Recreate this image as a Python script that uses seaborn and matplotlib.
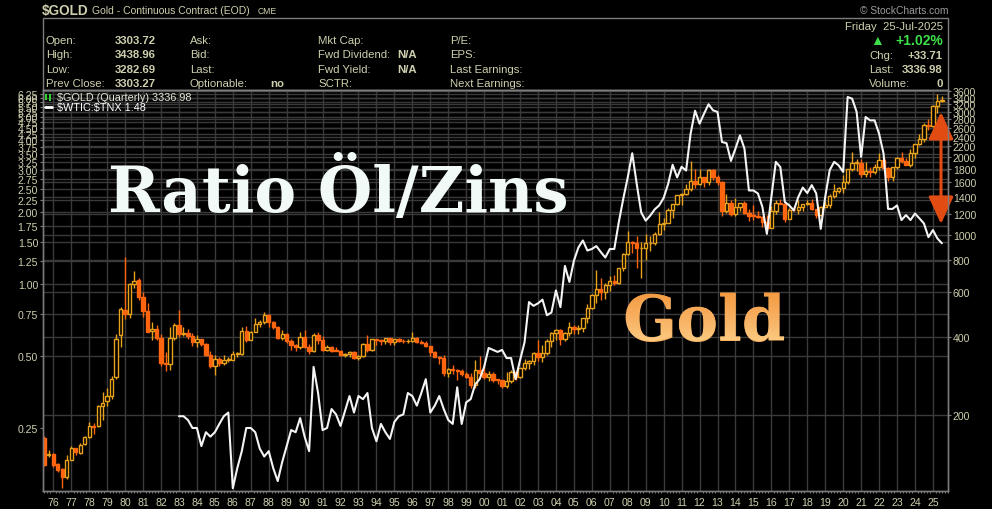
import numpy as np
import pandas as pd
import matplotlib
matplotlib.use('Agg')
import matplotlib.pyplot as plt
import matplotlib.ticker as mticker
import matplotlib.transforms as mtrans
from matplotlib.patches import Rectangle, PathPatch
from matplotlib.lines import Line2D
from matplotlib.textpath import TextPath
from matplotlib.font_manager import FontProperties
from matplotlib.colors import LinearSegmentedColormap
import seaborn as sns

# ---------------- data ----------------
gold_quarters = pd.period_range('1975Q3', '2025Q3', freq='Q')

gold_open = [
    162, 140,
    141, 129, 123, 115,  134, 148, 142, 154,  164, 181, 181, 216,  226, 237, 279, 408,
    512, 494, 645, 665,  575, 505, 422, 430,  398, 318, 314, 397,  445, 412, 415, 403,
    382, 393, 375, 342,  309, 330, 317, 327,  327, 344, 345, 424,  391, 420, 448, 460,
    487, 457, 437, 397,  410, 385, 373, 367,  402, 368, 352, 408,  391, 356, 368, 355,
    354, 341, 344, 350,  333, 338, 378, 356,  392, 390, 387, 396,  384, 392, 388, 385,
    388, 397, 383, 380,  369, 349, 335, 333,  291, 302, 297, 295,  289, 280, 262, 299,
    290, 279, 289, 274,  273, 258, 270, 293,  279, 303, 318, 324,  348, 336, 347, 388,
    416, 427, 394, 416,  438, 430, 436, 473,  518, 583, 614, 600,  635, 663, 650, 743,
    838, 933, 930, 884,  884, 924, 927, 1004,  1097, 1113, 1245, 1309,  1421, 1439, 1500, 1620,
    1566, 1669, 1604, 1776,  1675, 1596, 1234, 1327,  1202, 1284, 1322, 1210,  1184, 1183, 1172, 1115,
    1061, 1234, 1322, 1316,  1152, 1249, 1242, 1280,  1309, 1327, 1253, 1192,  1282, 1298, 1413, 1472,
    1523, 1596, 1801, 1895,  1895, 1716, 1771, 1757,  1829, 1954, 1817, 1672,  1826, 1986, 1929, 1866,
    2072, 2254, 2340, 2669,  2641, 3150, 3304,
]
gold_high = [
    165, 146,
    142, 130, 124, 139,  151, 149, 156, 166,  188, 185, 218, 245,  253, 282, 412, 525,
    816, 650, 720, 680,  600, 545, 460, 445,  410, 350, 440, 455,  511, 440, 430, 415,
    407, 395, 380, 352,  340, 336, 340, 334,  352, 350, 440, 442,  424, 475, 468, 502,
    490, 462, 442, 427,  415, 392, 378, 418,  425, 376, 415, 418,  405, 372, 370, 365,
    357, 346, 352, 352,  340, 380, 409, 392,  395, 395, 397, 398,  394, 397, 392, 395,
    418, 400, 390, 385,  370, 354, 337, 340,  305, 311, 300, 302,  292, 291, 326, 338,
    316, 295, 292, 276,  274, 294, 297, 295,  305, 330, 327, 350,  390, 373, 395, 418,
    430, 432, 420, 457,  447, 445, 474, 540,  590, 732, 680, 650,  690, 697, 745, 848,
    1033, 945, 988, 935,  1007, 990, 1020, 1227,  1162, 1265, 1310, 1425,  1448, 1577, 1923, 1805,
    1791, 1680, 1790, 1798,  1697, 1616, 1434, 1361,  1392, 1332, 1345, 1255,  1308, 1232, 1178, 1191,
    1287, 1362, 1377, 1337,  1264, 1296, 1362, 1310,  1366, 1369, 1262, 1289,  1347, 1443, 1566, 1531,
    1704, 1805, 2089, 1966,  1959, 1919, 1834, 1877,  2078, 1998, 1827, 1833,  2009, 2085, 1987, 2152,
    2256, 2455, 2709, 2801,  3173, 3509, 3439,
]
gold_low = [
    126, 137,
    125, 120, 104, 113,  133, 140, 141, 152,  163, 169, 179, 191,  216, 230, 275, 367,
    470, 475, 620, 560,  480, 420, 390, 390,  310, 296, 298, 390,  400, 405, 395, 370,
    368, 370, 338, 305,  285, 308, 312, 320,  327, 334, 342, 383,  390, 418, 440, 450,
    440, 430, 395, 390,  380, 358, 355, 360,  365, 345, 350, 378,  353, 352, 350, 352,
    339, 335, 335, 328,  326, 336, 350, 354,  374, 373, 377, 374,  372, 382, 380, 380,
    384, 380, 378, 366,  338, 334, 316, 283,  280, 287, 272, 283,  278, 253, 253, 286,
    275, 270, 268, 264,  255, 255, 265, 272,  277, 297, 300, 311,  323, 320, 342, 366,
    390, 372, 385, 406,  411, 411, 418, 456,  515, 542, 560, 565,  605, 640, 642, 720,
    835, 845, 740, 681,  800, 866, 908, 1000,  1044, 1110, 1157, 1300,  1308, 1420, 1478, 1523,
    1556, 1527, 1556, 1635,  1555, 1180, 1208, 1180,  1182, 1240, 1205, 1131,  1142, 1162, 1072, 1046,
    1061, 1200, 1310, 1124,  1146, 1240, 1204, 1236,  1302, 1250, 1160, 1180,  1276, 1267, 1381, 1445,
    1451, 1574, 1765, 1764,  1673, 1677, 1677, 1722,  1781, 1808, 1615, 1618,  1805, 1900, 1858, 1823,
    1985, 2230, 2293, 2541,  2624, 2970, 3283,
]
gold_close = [
    128, 141,
    128, 122, 115, 134,  148, 143, 153, 164,  181, 179, 216, 223,  237, 275, 393, 516,
    494, 642, 660, 575,  505, 420, 430, 398,  318, 314, 397, 445,  412, 415, 403, 382,
    393, 375, 342, 309,  330, 317, 327, 327,  344, 345, 424, 391,  420, 448, 460, 487,
    457, 437, 397, 410,  385, 373, 367, 402,  368, 352, 408, 391,  356, 368, 355, 354,
    341, 344, 350, 333,  338, 378, 356, 392,  390, 387, 396, 384,  392, 388, 385, 388,
    397, 383, 380, 369,  349, 335, 333, 291,  302, 297, 295, 289,  280, 262, 299, 290,
    279, 289, 274, 273,  258, 270, 293, 279,  303, 318, 324, 348,  336, 347, 388, 416,
    427, 394, 416, 438,  430, 436, 473, 518,  583, 614, 600, 635,  663, 650, 743, 838,
    933, 930, 884, 884,  924, 927, 1004, 1097,  1113, 1245, 1309, 1421,  1439, 1500, 1620, 1566,
    1669, 1604, 1776, 1675,  1596, 1234, 1327, 1202,  1284, 1322, 1210, 1184,  1183, 1172, 1115, 1061,
    1234, 1322, 1316, 1152,  1249, 1242, 1280, 1309,  1327, 1253, 1192, 1282,  1298, 1413, 1472, 1523,
    1596, 1801, 1895, 1895,  1716, 1771, 1757, 1829,  1954, 1817, 1672, 1826,  1986, 1929, 1866, 2072,
    2254, 2340, 2669, 2641,  3150, 3307, 3337,
]

# $WTIC:$TNX ratio, quarterly from 1983Q1
ratio_quarters = pd.period_range('1983Q1', '2025Q3', freq='Q')
ratio_values = [
    0.28, 0.28, 0.27, 0.25,  0.25, 0.21, 0.24, 0.23,  0.24, 0.26, 0.28, 0.29,  0.14, 0.17, 0.20, 0.25,
    0.25, 0.24, 0.205, 0.19,  0.20, 0.17, 0.15, 0.18,  0.21, 0.245, 0.24, 0.275,  0.23, 0.20, 0.45, 0.35,
    0.245, 0.25, 0.30, 0.285,  0.255, 0.295, 0.34, 0.29,  0.34, 0.33, 0.35, 0.25,  0.22, 0.26, 0.24, 0.225,
    0.265, 0.28, 0.285, 0.35,  0.34, 0.31, 0.35, 0.40,  0.29, 0.31, 0.34, 0.30,  0.27, 0.26, 0.37, 0.26,
    0.32, 0.33, 0.38, 0.40,  0.45, 0.54, 0.53, 0.52,  0.53, 0.49, 0.49, 0.40,  0.48, 0.57, 0.84, 0.81,
    0.83, 0.86, 0.74, 0.76,  0.94, 0.80, 1.19, 1.02,  1.25, 1.42, 1.52, 1.38,  1.40, 1.44, 1.36, 1.29,
    1.40, 1.40, 1.81, 2.27,  2.79, 3.52, 2.62, 1.99,  1.84, 1.93, 2.05, 2.13,  2.29, 2.62, 3.15, 2.79,
    3.09, 2.98, 4.24, 5.30,  4.68, 5.15, 5.64, 5.32,  5.24, 3.92, 3.88, 3.27,  3.68, 4.18, 3.68, 2.46,
    2.46, 2.39, 2.10, 1.62,  2.31, 3.24, 3.08, 2.20,  2.13, 2.03, 2.31, 2.53,  2.40, 2.59, 2.39, 1.70,
    2.31, 2.99, 3.24, 3.13,  2.94, 6.05, 5.95, 5.24,  3.40, 4.99, 4.83, 4.83,  4.25, 3.51, 2.06, 2.06,
    2.13, 1.85, 1.94, 1.85,  1.97, 1.88, 1.79, 1.57,  1.68, 1.55, 1.48,
]

ratio_ticks = [0.25, 0.50, 0.75, 1.00, 1.25, 1.50, 1.75, 2.00, 2.25, 2.50, 2.75, 3.00, 3.25,
               3.50, 3.75, 4.00, 4.25, 4.50, 4.75, 5.00, 5.25, 5.50, 5.75, 6.00, 6.25]
gold_ticks = [200, 400, 600, 800, 1000, 1200, 1400, 1600, 1800, 2000, 2200, 2400,
              2600, 2800, 3000, 3200, 3400, 3600]
year_ticks = list(range(1976, 2026))

# ---------------- style ----------------
sns.set_theme(style='dark', rc={'figure.facecolor': 'black', 'axes.facecolor': 'black',
                                'savefig.facecolor': 'black'})
plt.rcParams['font.family'] = ['Liberation Sans', 'DejaVu Sans']

BEIGE = '#cfcfae'
GRID = '#3a3a3a'
FRAME = '#7c7c7c'
UP = '#e9a21b'
DOWN = '#ff650f'

W, H = 992, 510


def fx(x):
    return x / W


def fy(y):
    return 1 - y / H


fig = plt.figure(figsize=(W / 100, H / 100), dpi=100)
L, R, T, B = 43, 948, 91, 492
ax_r = fig.add_axes([fx(L), fy(B), (R - L) / W, (B - T) / H])
ax_g = ax_r.twinx()
ax_r.set_zorder(ax_g.get_zorder() + 1)
ax_r.patch.set_visible(False)
ax_g.patch.set_facecolor('black')
ax_g.patch.set_visible(True)

ax_r.set_xlim(1975.426, 2025.84)
ax_r.set_yscale('log')
ax_g.set_yscale('log')
ax_r.set_ylim(0.1363, 6.47)
ax_g.set_ylim(101.2, 3640)

# grid (all drawn in the bottom axes so it stays behind the marks)
for yr in year_ticks:
    ax_g.axvline(yr, color=GRID, lw=1, zorder=0)
for v in gold_ticks:
    ax_g.axhline(v, color=GRID, lw=1, zorder=0)
blend = mtrans.blended_transform_factory(ax_g.transAxes, ax_r.transData)
for v in ratio_ticks[1:]:
    ax_g.add_line(Line2D([0, 1], [v, v], transform=blend, color=GRID, lw=1, zorder=0))

# candles
gx = np.array(gold_quarters.year + (gold_quarters.quarter - 1) / 4.0)
o = np.array(gold_open, float)
hi = np.array(gold_high, float)
lo = np.array(gold_low, float)
c = np.array(gold_close, float)
up = c >= o
cols = np.where(up, UP, DOWN)
ax_g.vlines(gx, lo, hi, colors=cols, lw=1, zorder=2)
bot = np.minimum(o, c)
top = np.maximum(np.maximum(o, c), bot * 1.006)
ax_g.bar(gx, top - bot, bottom=bot, width=0.185, color=np.where(up, 'black', DOWN),
         edgecolor=cols, linewidth=1, zorder=3)

# ratio line
rx = np.array(ratio_quarters.year + (ratio_quarters.quarter - 1) / 4.0)
sns.lineplot(x=rx, y=ratio_values, ax=ax_r, color='#f4f4f4', lw=1.5, zorder=4)

# arrow
ax_g.annotate('', xy=(2025.45, 2990), xytext=(2025.45, 1100),
              arrowprops=dict(arrowstyle='<|-|>,head_length=1.2,head_width=0.55',
                              color='#e24c12', lw=2.2, mutation_scale=14,
                              shrinkA=0, shrinkB=0),
              annotation_clip=False, zorder=5)

# axes / ticks
ax_r.yaxis.set_major_locator(mticker.FixedLocator(ratio_ticks))
ax_r.yaxis.set_major_formatter(mticker.FixedFormatter([f'{v:.2f}' for v in ratio_ticks]))
ax_r.yaxis.set_minor_locator(mticker.NullLocator())
ax_g.yaxis.set_major_locator(mticker.FixedLocator(gold_ticks))
ax_g.yaxis.set_major_formatter(mticker.FixedFormatter([str(v) for v in gold_ticks]))
ax_g.yaxis.set_minor_locator(mticker.NullLocator())
ax_r.xaxis.set_major_locator(mticker.FixedLocator(year_ticks))
ax_r.xaxis.set_major_formatter(mticker.FixedFormatter([f'{y % 100:02d}' for y in year_ticks]))
ax_r.xaxis.set_minor_locator(mticker.MultipleLocator(1 / 6))

ax_r.tick_params(axis='y', which='major', left=True, length=2.5, width=0.8, color=FRAME,
                 labelsize=7.6, labelcolor=BEIGE, pad=1)
ax_g.tick_params(axis='y', which='major', right=True, length=2.5, width=0.8, color=FRAME,
                 labelsize=7.6, labelcolor=BEIGE, pad=1)
ax_r.tick_params(axis='x', which='major', bottom=True, length=0, labelsize=7.6,
                 labelcolor=BEIGE, pad=4)
ax_r.tick_params(axis='x', which='minor', bottom=True, length=1.6, width=0.7, color=FRAME)
for a in (ax_r, ax_g):
    a.grid(False)
    a.set_xlabel('')
    a.set_ylabel('')
    for s in a.spines.values():
        s.set_color(FRAME)
        s.set_linewidth(1)

# ---------------- header ----------------
fig.add_artist(Rectangle((fx(43), fy(91)), (948 - 43) / W, (91 - 19) / H,
                         transform=fig.transFigure, fill=False, ec=FRAME, lw=1))
fig.text(fx(42), fy(11), r'\$GOLD', fontsize=9.8, fontweight='bold', color=BEIGE,
         ha='left', va='center')
fig.text(fx(92), fy(11), 'Gold - Continuous Contract (EOD)', fontsize=7.5, color=BEIGE,
         ha='left', va='center')
fig.text(fx(258), fy(12), 'CME', fontsize=6.2, color=BEIGE, ha='left', va='center')
fig.text(fx(948), fy(11), '© StockCharts.com', fontsize=7.4, color='#9a9a9a',
         ha='right', va='center')

rows = [41, 55, 70, 84]
col1 = ['Open:', 'High:', 'Low:', 'Prev Close:']
val1 = ['3303.72', '3438.96', '3282.69', '3303.27']
col2 = ['Ask:', 'Bid:', 'Last:', 'Optionable:']
col3 = ['Mkt Cap:', 'Fwd Dividend:', 'Fwd Yield:', 'SCTR:']
col4 = ['P/E:', 'EPS:', 'Last Earnings:', 'Next Earnings:']
hs = 8.2
for y, a, b, cc, d in zip(rows, col1, col2, col3, col4):
    fig.text(fx(46), fy(y), a, fontsize=hs, color=BEIGE, ha='left', va='center')
    fig.text(fx(190), fy(y), b, fontsize=hs, color=BEIGE, ha='left', va='center')
    fig.text(fx(318), fy(y), cc, fontsize=hs, color=BEIGE, ha='left', va='center')
    fig.text(fx(450), fy(y), d, fontsize=hs, color=BEIGE, ha='left', va='center')
for y, v in zip(rows, val1):
    fig.text(fx(156), fy(y), v, fontsize=hs, fontweight='bold', color=BEIGE,
             ha='right', va='center')
fig.text(fx(270), fy(84), 'no', fontsize=hs, fontweight='bold', color=BEIGE,
         ha='left', va='center')
fig.text(fx(397), fy(55), 'N/A', fontsize=hs, fontweight='bold', color=BEIGE,
         ha='left', va='center')
fig.text(fx(397), fy(70), 'N/A', fontsize=hs, fontweight='bold', color=BEIGE,
         ha='left', va='center')

fig.text(fx(943), fy(26.5), 'Friday  25-Jul-2025', fontsize=hs, color=BEIGE,
         ha='right', va='center')
fig.text(fx(877), fy(41), '▲', fontsize=10, color='#3ee04a', ha='center', va='center')
fig.text(fx(943), fy(41), '+1.02%', fontsize=10, fontweight='bold', color='#3ee04a',
         ha='right', va='center')
for y, lab, val in [(56, 'Chg:', '+33.71'), (70, 'Last:', '3336.98'), (84, 'Volume:', '0')]:
    fig.text(fx(869), fy(y), lab, fontsize=hs, color=BEIGE, ha='left', va='center')
    fig.text(fx(943), fy(y), val, fontsize=hs, fontweight='bold', color=BEIGE,
             ha='right', va='center')

# legend inside the plot
fig.add_artist(Rectangle((fx(45), fy(101)), 2 / W, 6 / H, transform=fig.transFigure,
                         fc='#2fd02f', ec='none'))
fig.add_artist(Rectangle((fx(49), fy(102)), 2 / W, 7 / H, transform=fig.transFigure,
                         fc='#2fd02f', ec='none'))
fig.add_artist(Line2D([fx(45), fx(52)], [fy(108), fy(108)], transform=fig.transFigure,
                      color='white', lw=2))
fig.text(fx(57), fy(98), r'\$GOLD (Quarterly) 3336.98', fontsize=7.8, color='#e6e6d8',
         ha='left', va='center')
fig.text(fx(57), fy(108.5), r'\$WTIC:\$TNX 1.48', fontsize=7.8, color='white',
         ha='left', va='center')

# big annotations
big = FontProperties(family='DejaVu Serif', weight='bold', size=45)
fig.text(fx(108), fy(212), 'Ratio Öl/Zins', fontproperties=big,
         color='#f1faf7', ha='left', va='baseline', zorder=6)
fig.text(fx(623), fy(341), 'Gold', fontproperties=big,
         color='#f9b462', ha='left', va='baseline', zorder=6)

# orange gradient laid over the "Gold" lettering
ov = fig.add_axes([0, 0, 1, 1], zorder=10)
ov.set_xlim(0, W)
ov.set_ylim(0, H)
ov.axis('off')
ov.patch.set_visible(False)
glyphs = TextPath((0, 0), 'Gold', prop=big)
clip = PathPatch(glyphs, transform=mtrans.Affine2D().scale(100 / 72).translate(623, H - 341)
                 + ov.transData, fc='none', ec='none')
ov.add_patch(clip)
cmap = LinearSegmentedColormap.from_list('goldfill', ['#f49a40', '#f8b264', '#fdd48a'])
ov.imshow(np.linspace(0, 1, 64).reshape(-1, 1), cmap=cmap, aspect='auto', origin='upper',
          extent=[615, 800, H - 350, H - 292], clip_path=clip, interpolation='bilinear')

fig.savefig('out.png', dpi=100, facecolor='black')
